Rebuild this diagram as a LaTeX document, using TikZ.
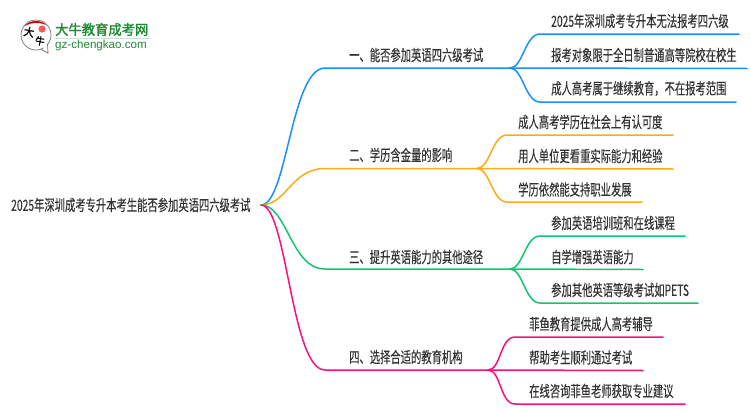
\documentclass[tikz,border=0pt]{standalone}
\usepackage{fontspec}
\setmainfont{Liberation Sans}
\newfontfamily\cjk[FakeStretch=0.665,FakeBold=0.25]{Noto Sans CJK SC}
\newfontfamily\cjkbold[FakeStretch=0.95,FakeBold=1.5]{Noto Sans CJK SC}
\definecolor{cblue}{HTML}{1890FF}
\definecolor{corange}{HTML}{FAAD14}
\definecolor{cgreen}{HTML}{14C472}
\definecolor{cpink}{HTML}{FF1078}
\definecolor{ctext}{HTML}{333333}
\definecolor{lgreen}{HTML}{1E8A35}
\tikzset{
 lbl/.style={anchor=west,inner sep=0pt,text=ctext,font=\cjk\fontsize{15.5}{15.5}\selectfont},
 wire/.style={line width=1.5pt,line cap=round,line join=round},
 bigcurve/.style={wire,to path={.. controls +(26,0) and +(-34,0) .. (\tikztotarget)}},
 smallcurve/.style={wire,to path={.. controls +(13,0) and +(-15,0) .. (\tikztotarget)}},
}
\begin{document}
\begin{tikzpicture}[x=1pt,y=-1pt]
\useasboundingbox (0,0) rectangle (750,410);
\fill[white] (0,0) rectangle (750,410);
% logo
\draw[black!55,line width=.7pt,fill=white] (36,35) circle (15);
\fill[white] (42,46) -- (49,53) -- (47,44) -- cycle;
\draw[black!55,line width=.7pt] (41,49.5) -- (48,53) -- (47.5,44);
\fill[red!80!black] (25,26) .. controls (29,20) and (41,19) .. (46,25) .. controls (40,22) and (31,22) .. (25,26) -- cycle;
\fill[red!65!white] (42,29) circle (3.6);
\node[inner sep=0pt,rotate=-10,font=\cjkbold\fontsize{11}{11}\selectfont] (logoa) at (29,32) {大};
\node[inner sep=0pt,rotate=-10,font=\cjkbold\fontsize{10}{10}\selectfont] (logob) at (40,41) {牛};
\node[anchor=west,inner sep=0pt,text=lgreen,font=\cjkbold\fontsize{14}{14}\selectfont] (logot) at (55,29.5) {大牛教育成考网};
\fill[lgreen!25] (55,38) rectangle (150,39);
\node[anchor=west,inner sep=0pt,text=lgreen,font=\fontsize{11.6}{12}\selectfont] (logou) at (55,45.5) {gz-chengkao.com};
% root
\node[lbl] (root) at (11,205) {2025年深圳成考专升本考生能否参加英语四六级考试};
\coordinate (r) at (261,205);
% branch labels
\node[lbl] (b1) at (349,55) {一、能否参加英语四六级考试};
\node[lbl] (b2) at (349,155) {二、学历含金量的影响};
\node[lbl] (b3) at (349,257) {三、提升英语能力的其他途径};
\node[lbl] (b4) at (349,357) {四、选择合适的教育机构};
% leaves
\node[lbl] (a1) at (551,21) {2025年深圳成考专升本无法报考四六级};
\node[lbl] (a2) at (551,55) {报考对象限于全日制普通高等院校在校生};
\node[lbl] (a3) at (551,88.5) {成人高考属于继续教育，不在报考范围};
\node[lbl] (c1) at (518,122) {成人高考学历在社会上有认可度};
\node[lbl] (c2) at (518,156) {用人单位更看重实际能力和经验};
\node[lbl] (c3) at (518,189.5) {学历依然能支持职业发展};
\node[lbl] (d1) at (551,223) {参加英语培训班和在线课程};
\node[lbl] (d2) at (551,257) {自学增强英语能力};
\node[lbl] (d3) at (551,290) {参加其他英语等级考试如PETS};
\node[lbl] (e1) at (529,324) {菲鱼教育提供成人高考辅导};
\node[lbl] (e2) at (529,357.5) {帮助考生顺利通过考试};
\node[lbl] (e3) at (529,391) {在线咨询菲鱼老师获取专业建议};
% blue
\coordinate (b1s) at (325,68); \coordinate (b1h) at (510,68);
\coordinate (a1s) at (540,34); \coordinate (a1e) at (739,34);
\coordinate (a2e) at (747,68.5);
\coordinate (a3s) at (540,102); \coordinate (a3e) at (736,102);
\draw[bigcurve,cblue] (r) to (b1s) -- (b1h);
\draw[smallcurve,cblue] (b1h) to (a1s) -- (a1e);
\draw[wire,cblue] (b1h) -- (a2e);
\draw[smallcurve,cblue] (b1h) to (a3s) -- (a3e);
% orange
\coordinate (b2s) at (325,168.5); \coordinate (b2h) at (477,168.5);
\coordinate (c1s) at (507,135); \coordinate (c1e) at (673,135);
\coordinate (c2e) at (673,169);
\coordinate (c3s) at (507,202); \coordinate (c3e) at (642,202);
\draw[bigcurve,corange] (r) to (b2s) -- (b2h);
\draw[smallcurve,corange] (b2h) to (c1s) -- (c1e);
\draw[wire,corange] (b2h) -- (c2e);
\draw[smallcurve,corange] (b2h) to (c3s) -- (c3e);
% green
\coordinate (b3s) at (325,269); \coordinate (b3h) at (510,269);
\coordinate (d1s) at (540,236); \coordinate (d1e) at (685,236);
\coordinate (d2e) at (643,269.5);
\coordinate (d3s) at (540,303); \coordinate (d3e) at (698,303);
\draw[bigcurve,cgreen] (r) to (b3s) -- (b3h);
\draw[smallcurve,cgreen] (b3h) to (d1s) -- (d1e);
\draw[wire,cgreen] (b3h) -- (d2e);
\draw[smallcurve,cgreen] (b3h) to (d3s) -- (d3e);
% pink
\coordinate (b4s) at (325,370); \coordinate (b4h) at (488,370);
\coordinate (e1s) at (515,337); \coordinate (e1e) at (663,337);
\coordinate (e2e) at (643,370.5);
\coordinate (e3s) at (515,404); \coordinate (e3e) at (685,404);
\draw[bigcurve,cpink] (r) to (b4s) -- (b4h);
\draw[smallcurve,cpink] (b4h) to (e1s) -- (e1e);
\draw[wire,cpink] (b4h) -- (e2e);
\draw[smallcurve,cpink] (b4h) to (e3s) -- (e3e);
\end{tikzpicture}
\end{document}
